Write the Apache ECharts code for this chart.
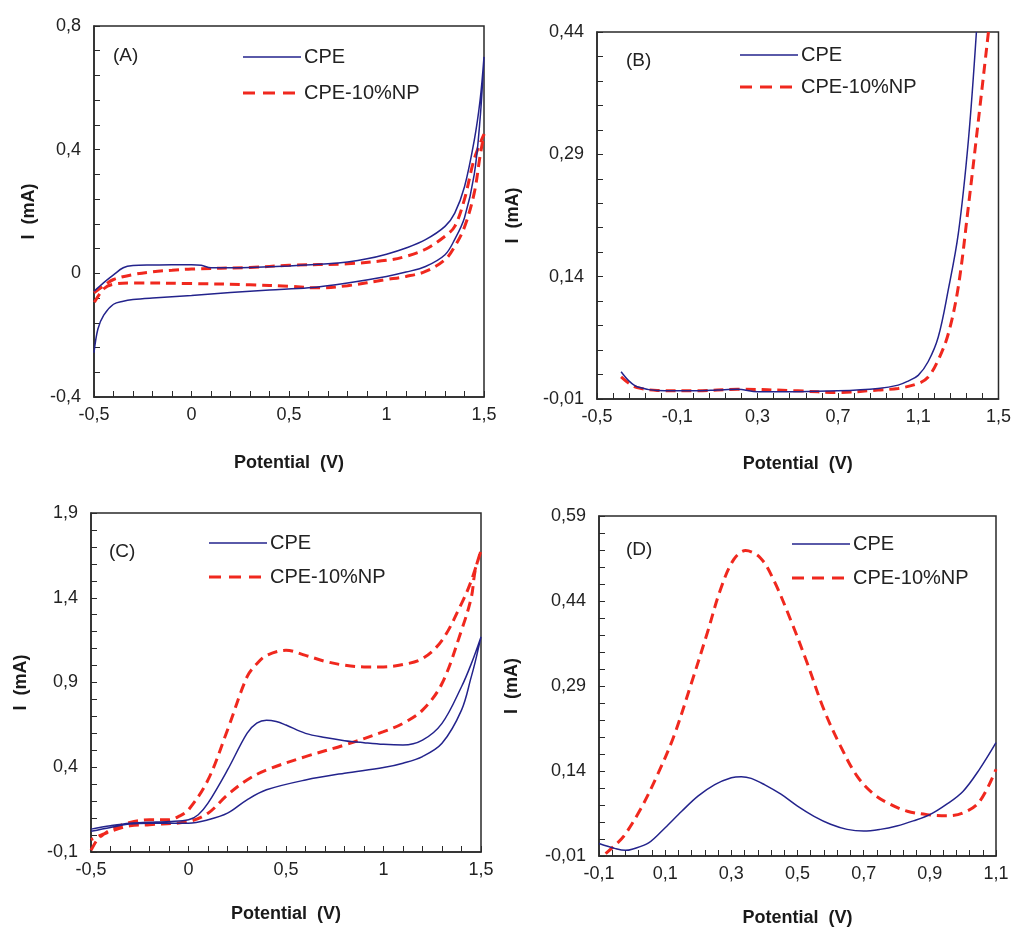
<!DOCTYPE html>
<html>
<head>
<meta charset="utf-8">
<script src="https://cdn.jsdelivr.net/npm/echarts@6/dist/echarts.min.js"></script>
<style>
html, body { margin: 0; padding: 0; background: #fff; }
#chart { width: 1014px; height: 928px; }
</style>
</head>
<body>
<div id="chart"></div>
<script>
// (A) CV, blank
var aCpe = [[-0.5,-0.058],[-0.45,-0.03],[-0.4,-0.005],[-0.35,0.018],[-0.3,0.025],[-0.2,0.027],[-0.1,0.028],[0,0.028],[0.05,0.026],[0.1,0.018],[0.2,0.018],[0.3,0.019],[0.5,0.024],[0.7,0.031],[0.8,0.037],[0.9,0.047],[1.0,0.062],[1.1,0.082],[1.2,0.109],[1.3,0.152],[1.35,0.195],[1.4,0.28],[1.45,0.43],[1.48,0.56],[1.5,0.70],
    [1.48,0.50],[1.45,0.32],[1.4,0.18],[1.35,0.11],[1.3,0.06],[1.2,0.022],[1.1,0.004],[1.0,-0.01],[0.8,-0.031],[0.6,-0.047],[0.4,-0.054],[0.2,-0.062],[0,-0.072],[-0.2,-0.08],[-0.3,-0.085],[-0.35,-0.09],[-0.4,-0.1],[-0.45,-0.135],[-0.48,-0.18],[-0.5,-0.257]];
var aNp = [[-0.5,-0.063],[-0.45,-0.04],[-0.4,-0.02],[-0.3,-0.004],[-0.2,0.005],[-0.1,0.01],[0,0.014],[0.3,0.019],[0.5,0.026],[0.8,0.031],[1.0,0.042],[1.1,0.055],[1.2,0.078],[1.3,0.12],[1.35,0.152],[1.4,0.24],[1.45,0.37],[1.5,0.45],
    [1.48,0.38],[1.45,0.26],[1.4,0.15],[1.35,0.087],[1.3,0.044],[1.2,0.006],[1.1,-0.01],[1.0,-0.02],[0.8,-0.04],[0.65,-0.047],[0.5,-0.042],[0.3,-0.037],[0,-0.033],[-0.3,-0.031],[-0.4,-0.035],[-0.45,-0.05],[-0.5,-0.096]];

// (B) LSV
var bCpe = [[-0.38,0.0235],[-0.34,0.012],[-0.3,0.005],[-0.2,0.0005],[0,0],[0.1,0.001],[0.2,0.002],[0.3,-0.001],[0.5,-0.001],[0.7,0],[0.9,0.003],[1.0,0.007],[1.05,0.012],[1.1,0.019],[1.15,0.036],[1.2,0.066],[1.25,0.124],[1.3,0.193],[1.35,0.307],[1.39,0.44]];
var bNp = [[-0.38,0.017],[-0.34,0.009],[-0.3,0.004],[-0.2,0.0005],[0,0],[0.2,0.002],[0.5,0],[0.7,-0.002],[0.9,0.001],[1.0,0.003],[1.1,0.009],[1.15,0.017],[1.2,0.038],[1.25,0.07],[1.3,0.128],[1.35,0.226],[1.4,0.332],[1.45,0.44]];

// (C) CV with analyte
var cCpe = [[-0.5,0.035],[-0.4,0.055],[-0.3,0.07],[-0.2,0.075],[-0.1,0.08],[0,0.09],[0.05,0.12],[0.1,0.188],[0.2,0.384],[0.3,0.6],[0.35,0.66],[0.4,0.678],[0.45,0.67],[0.5,0.649],[0.6,0.6],[0.7,0.575],[0.8,0.557],[0.9,0.545],[1.0,0.535],[1.1,0.531],[1.2,0.56],[1.3,0.659],[1.4,0.875],[1.45,1.01],[1.5,1.169],
    [1.47,1.02],[1.45,0.933],[1.4,0.737],[1.3,0.541],[1.2,0.463],[1.1,0.424],[1.0,0.398],[0.8,0.365],[0.6,0.325],[0.4,0.267],[0.3,0.208],[0.2,0.129],[0.1,0.09],[0,0.07],[-0.2,0.07],[-0.3,0.065],[-0.4,0.045],[-0.5,0.022]];
var cNp = [[-0.5,-0.09],[-0.47,-0.03],[-0.45,-0.008],[-0.4,0.031],[-0.3,0.075],[-0.2,0.09],[-0.1,0.09],[-0.05,0.11],[0,0.149],[0.1,0.325],[0.2,0.62],[0.3,0.933],[0.35,1.01],[0.4,1.06],[0.5,1.09],[0.6,1.06],[0.7,1.025],[0.8,1.002],[0.9,0.992],[1.0,0.992],[1.1,1.006],[1.2,1.041],[1.3,1.149],[1.4,1.365],[1.45,1.5],[1.5,1.678],
    [1.47,1.56],[1.45,1.4],[1.4,1.208],[1.3,0.894],[1.2,0.737],[1.1,0.659],[1.0,0.61],[0.8,0.531],[0.6,0.463],[0.4,0.384],[0.3,0.325],[0.2,0.237],[0.1,0.129],[0,0.08],[-0.2,0.061],[-0.3,0.055],[-0.4,0.022],[-0.5,-0.027]];

// (D) DPV
var dCpe = [[-0.1,0.012],[-0.05,0.003],[-0.02,0.0],[0,0.002],[0.05,0.013],[0.1,0.04],[0.15,0.069],[0.2,0.096],[0.25,0.116],[0.3,0.128],[0.33,0.13],[0.36,0.127],[0.4,0.116],[0.45,0.099],[0.5,0.078],[0.55,0.06],[0.6,0.046],[0.65,0.037],[0.7,0.034],[0.75,0.037],[0.8,0.043],[0.85,0.052],[0.9,0.063],[0.95,0.081],[1.0,0.104],[1.05,0.143],[1.1,0.19]];
var dNp = [[-0.08,-0.006],[-0.05,0.01],[-0.025,0.025],[0.025,0.072],[0.075,0.131],[0.126,0.201],[0.176,0.289],[0.227,0.383],[0.267,0.46],[0.307,0.513],[0.343,0.529],[0.388,0.516],[0.428,0.477],[0.479,0.407],[0.529,0.331],[0.58,0.248],[0.63,0.184],[0.68,0.131],[0.731,0.099],[0.781,0.081],[0.832,0.069],[0.892,0.063],[0.95,0.061],[1.0,0.066],[1.05,0.086],[1.1,0.143]];

var panelNames = ['(A)', '(B)', '(C)', '(D)'];
var legendNames = ['CPE', 'CPE-10%NP'];
var xRanges = [[-0.5, 1.5, 0.5], [-0.5, 1.5, 0.4], [-0.5, 1.5, 0.5], [-0.1, 1.1, 0.2]];
var yRanges = [[-0.4, 0.8, 0.4], [-0.01, 0.44, 0.15], [-0.1, 1.9, 0.5], [-0.01, 0.59, 0.15]];

var BLUE = '#23238c';
var RED = '#f0281e';
var FONT = 'Liberation Sans, Arial, sans-serif';

var grids = [
    {left: 94, top: 26, width: 390, height: 371},
    {left: 597, top: 32, width: 402, height: 367},
    {left: 91, top: 513, width: 390, height: 339},
    {left: 599, top: 516, width: 397, height: 341}
];
var xNameGaps = [57, 56, 53, 53];
var yNameGaps = [56, 75, 61, 78];
// legend sample: x start, row 1 y, row 2 y
var legendPos = [[243, 57, 93], [740, 55, 87], [209, 543, 577], [792, 544, 578]];
var panelPos = [[108, 41], [621, 46], [104, 537], [621, 535]];

function fmt(v) {
    return String(+v.toFixed(2)).replace('.', ',');
}

function makeAxis(range, i, isX) {
    return {
        type: 'value',
        gridIndex: i,
        min: range[0],
        max: range[1],
        interval: range[2],
        name: isX ? 'Potential  (V)' : 'I  (mA)',
        nameLocation: 'middle',
        nameGap: isX ? xNameGaps[i] : yNameGaps[i],
        nameTextStyle: {fontFamily: FONT, fontSize: 18, fontWeight: 'bold', color: '#1a1a1a'},
        axisLine: {show: true, onZero: false, lineStyle: {color: '#2a2a2a', width: 1.5}},
        axisTick: {show: true, inside: true, length: 6, lineStyle: {color: '#2a2a2a'}},
        minorTick: {show: true, splitNumber: 5, length: 6, lineStyle: {color: '#2a2a2a'}},
        splitLine: {show: false},
        axisLabel: {
            margin: isX ? 9 : 13,
            fontFamily: FONT,
            fontSize: 18,
            color: '#222',
            formatter: fmt
        }
    };
}

var xAxes = [], yAxes = [], titles = [], graphics = [];
for (var i = 0; i < 4; i++) {
    xAxes.push(makeAxis(xRanges[i], i, true));
    yAxes.push(makeAxis(yRanges[i], i, false));
    titles.push({text: panelNames[i], left: panelPos[i][0], top: panelPos[i][1],
        textStyle: {fontFamily: FONT, fontSize: 19, fontWeight: 'normal', color: '#222'}});
    var lp = legendPos[i];
    graphics.push(
        {type: 'line', shape: {x1: lp[0], y1: lp[1], x2: lp[0] + 58, y2: lp[1]},
            style: {stroke: BLUE, lineWidth: 1.5}},
        {type: 'text', x: lp[0] + 61, y: lp[1],
            style: {text: legendNames[0], font: '20px ' + FONT, fill: '#222', verticalAlign: 'middle'}},
        {type: 'line', shape: {x1: lp[0], y1: lp[2], x2: lp[0] + 58, y2: lp[2]},
            style: {stroke: RED, lineWidth: 3, lineDash: [12, 8]}},
        {type: 'text', x: lp[0] + 61, y: lp[2],
            style: {text: legendNames[1], font: '20px ' + FONT, fill: '#222', verticalAlign: 'middle'}}
    );
}

function line(name, data, i) {
    var np = name !== 'CPE';
    return {
        name: name,
        type: 'line',
        xAxisIndex: i,
        yAxisIndex: i,
        data: data,
        symbol: 'none',
        smooth: 0.35,
        lineStyle: np ? {color: RED, width: 3, type: [10, 6]} : {color: BLUE, width: 1.5},
        itemStyle: {color: np ? RED : BLUE},
        z: np ? 2 : 3
    };
}

var chart = echarts.init(document.getElementById('chart'), null, {renderer: 'canvas'});
chart.setOption({
    backgroundColor: '#fff',
    animation: false,
    title: titles,
    graphic: graphics,
    grid: grids.map(function (g) {
        return Object.assign({show: true, borderColor: '#2a2a2a', borderWidth: 1.5, containLabel: false}, g);
    }),
    xAxis: xAxes,
    yAxis: yAxes,
    series: [
        line('CPE', aCpe, 0), line('CPE-10%NP', aNp, 0),
        line('CPE', bCpe, 1), line('CPE-10%NP', bNp, 1),
        line('CPE', cCpe, 2), line('CPE-10%NP', cNp, 2),
        line('CPE', dCpe, 3), line('CPE-10%NP', dNp, 3)
    ]
});
</script>
</body>
</html>
